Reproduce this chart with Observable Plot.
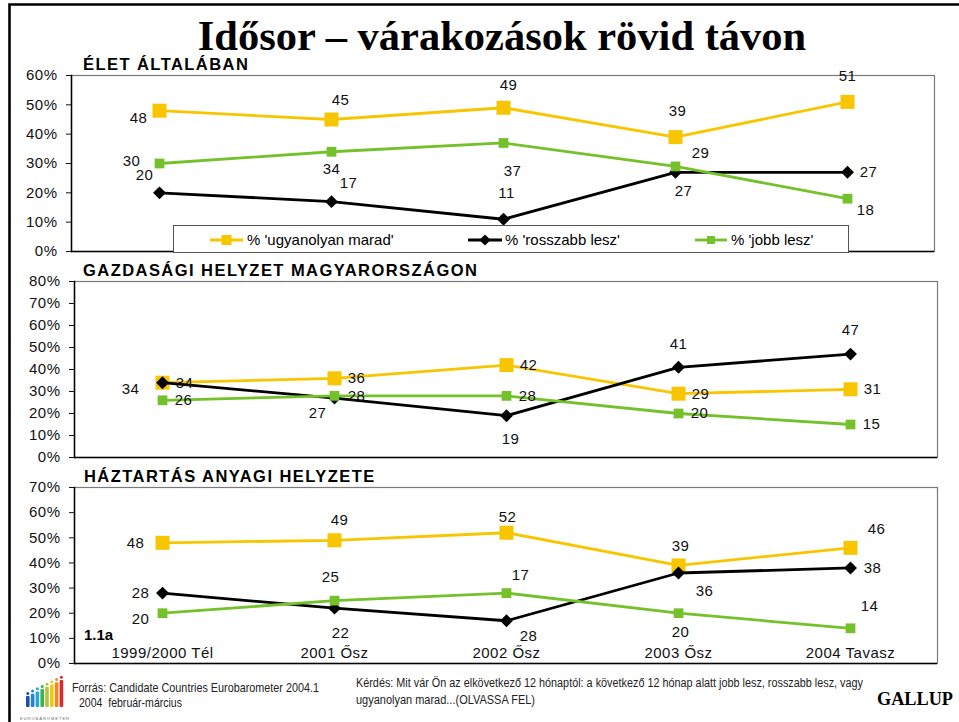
<!DOCTYPE html>
<html><head><meta charset="utf-8">
<script src="https://cdn.jsdelivr.net/npm/d3@7"></script>
<script src="https://cdn.jsdelivr.net/npm/@observablehq/plot@0.6"></script>
<style>
body{margin:0;background:#fff;}
#root{position:relative;width:959px;height:722px;overflow:hidden;background:#fff;}
.panel{position:absolute;left:0;}
#overlay{position:absolute;left:0;top:0;pointer-events:none;}
</style></head>
<body><div id="root"></div>
<script>
// ---------- data ----------
const periods = ["1999/2000 Tél", "2001 Ősz", "2002 Ősz", "2003 Ősz", "2004 Tavasz"];
const seriesNames = ["% 'ugyanolyan marad'", "% 'rosszabb lesz'", "% 'jobb lesz'"];
const panelTitles = ["ÉLET ÁLTALÁBAN", "GAZDASÁGI HELYZET MAGYARORSZÁGON", "HÁZTARTÁS ANYAGI HELYZETE"];
const yMaxes = [60, 80, 70];

// Élet általában
const eletSame   = [48, 45, 49, 39, 51];
const eletWorse  = [20, 17, 11, 27, 27];
const eletBetter = [30, 34, 37, 29, 18];
// Gazdasági helyzet Magyarországon
const gazdSame   = [34, 36, 42, 29, 31];
const gazdWorse  = [34, 27, 19, 41, 47];
const gazdBetter = [26, 28, 28, 20, 15];
// Háztartás anyagi helyzete
const haztSame   = [48, 49, 52, 39, 46];
const haztWorse  = [28, 22, 17, 36, 38];
const haztBetter = [20, 25, 28, 20, 14];
// data labels as printed on the original (2002 labels swapped there)
const haztWorseLabels  = [28, 22, 28, 36, 38];
const haztBetterLabels = [20, 25, 17, 20, 14];

const sourceLines = ["Forrás: Candidate Countries Eurobarometer 2004.1", " 2004  február-március"];
const questionLines = ["Kérdés: Mit vár Ön az elkövetkező 12 hónaptól: a következő 12 hónap alatt jobb lesz, rosszabb lesz, vagy", "ugyanolyan marad...(OLVASSA FEL)"];
const chartTitle = "Idősor – várakozások rövid távon";
const chartCode = "1.1a";
const brand = "GALLUP";

// ---------- styling / layout (not data) ----------
const colors = ["#F7C600", "#000000", "#74C12B"];
const symbols = ["square", "diamond2", "square"];
const radii = [7.9, 5.8, 5.5];
const SANS = "'Liberation Sans', Arial, sans-serif";

// label offsets [dx, dy] per panel, per series, per period
const labelOffsets = [
  [ [[-21,7],[9,-19],[5,-23],[2,-26],[0,-26]],
    [[-15,-18],[17,-18],[3,-26],[8,19],[21,0]],
    [[-28,-2],[0,17],[9,28],[25,-13],[18,11]] ],
  [ [[22,0],[22,0],[22,0],[22,0],[22,0]],
    [[-32,6],[-17,15],[4,23],[0,-23],[0,-24]],
    [[21,0],[22,0],[21,0],[21,0],[21,0]] ],
  [ [[-27,0],[5,-20],[1,-16],[2,-19],[26,-19]],
    [[-22,0],[6,25],[22,15],[26,18],[22,0]],
    [[-22,6],[-4,-23],[14,-18],[2,19],[19,-22]] ]
];
const panelLayout = [
  {top: 60,  ml: 71, mr: 25},
  {top: 266, ml: 74, mr: 22},
  {top: 472, ml: 74, mr: 22}
];

const panelsData = [
  [{values: eletSame, labels: eletSame}, {values: eletWorse, labels: eletWorse}, {values: eletBetter, labels: eletBetter}],
  [{values: gazdSame, labels: gazdSame}, {values: gazdWorse, labels: gazdWorse}, {values: gazdBetter, labels: gazdBetter}],
  [{values: haztSame, labels: haztSame}, {values: haztWorse, labels: haztWorseLabels}, {values: haztBetter, labels: haztBetterLabels}]
];

const root = document.getElementById("root");

panelsData.forEach((series, i) => {
  const yMax = yMaxes[i];
  const lay = panelLayout[i];
  const marks = [
    Plot.frame({stroke: "#7a7a7a", strokeWidth: 1.2}),
    Plot.frame({anchor: "left", stroke: "#000", strokeWidth: 1.5}),
    Plot.ruleY([0], {stroke: "#000", strokeWidth: 1.5}),
    Plot.axisY({ticks: d3.range(0, yMax + 1, 10), tickSize: 5, tickPadding: 9, tickFormat: d => d + "%", label: null, fontSize: 15})
  ];
  const labelMarks = [];
  series.forEach((s, k) => {
    const rows = periods.map((p, j) => ({period: p, value: s.values[j], label: String(s.labels[j]),
      dx: labelOffsets[i][k][j][0], dy: labelOffsets[i][k][j][1]}));
    marks.push(Plot.line(rows, {x: "period", y: "value", stroke: colors[k], strokeWidth: 2.8}));
    marks.push(Plot.dot(rows, {x: "period", y: "value", symbol: symbols[k], r: radii[k], fill: colors[k]}));
    rows.forEach(r => labelMarks.push(Plot.text([r], {x: "period", y: "value", text: "label", dx: r.dx, dy: r.dy, fontSize: 15, fill: "#111"})));
  });
  if (i === 2) {
    marks.push(Plot.text(periods, {x: d => d, frameAnchor: "bottom", lineAnchor: "middle", dy: -10, fontSize: 15, fill: "#111"}));
  }
  const svg = Plot.plot({
    width: 959, height: 196,
    marginLeft: lay.ml, marginRight: lay.mr, marginTop: 15, marginBottom: 5,
    style: `font-family:${SANS};font-size:15px;letter-spacing:0.5px;color:#111;overflow:visible;background:none;`,
    x: {type: "point", domain: periods, padding: 0.5, axis: null},
    y: {domain: [0, yMax], axis: null},
    marks: [...marks, ...labelMarks]
  });
  svg.classList.add("panel");
  svg.style.top = lay.top + "px";
  svg.style.position = "absolute";
  root.appendChild(svg);
});

// ---------- overlay: titles, legend, footer ----------
const ov = d3.select(root).append("svg").attr("id", "overlay").attr("width", 959).attr("height", 722);

// outer frame
ov.append("path").attr("d", "M9.5,722 V4.5 H959").attr("fill", "none").attr("stroke", "#000").attr("stroke-width", 2.6);

ov.append("text").attr("x", 502).attr("y", 50).attr("text-anchor", "middle")
  .attr("font-family", "'Liberation Serif','Times New Roman',serif").attr("font-weight", "bold").attr("font-size", 42.5)
  .text(chartTitle);

const titleBase = [70, 276, 482];
const titleX = [83, 83, 84];
panelTitles.forEach((t, i) => {
  ov.append("text").attr("x", titleX[i]).attr("y", titleBase[i]).attr("font-family", SANS)
    .attr("font-weight", "bold").attr("font-size", 16.5).attr("letter-spacing", "1.45px").text(t);
});

// legend
const lg = ov.append("g");
lg.append("rect").attr("x", 173.5).attr("y", 225.5).attr("width", 675).attr("height", 27)
  .attr("fill", "#fff").attr("stroke", "#555").attr("stroke-width", 1);
const legLine = [[210, 243], [468, 502], [695, 727]];
const legText = [247, 505, 731];
const legSym = [d3.symbolSquare, d3.symbolDiamond2, d3.symbolSquare];
const legSize = [100, 80, 64];
seriesNames.forEach((n, k) => {
  const cy = 240;
  lg.append("line").attr("x1", legLine[k][0]).attr("x2", legLine[k][1]).attr("y1", cy).attr("y2", cy)
    .attr("stroke", colors[k]).attr("stroke-width", 2.8);
  lg.append("path").attr("d", d3.symbol(legSym[k], legSize[k])())
    .attr("transform", `translate(${(legLine[k][0] + legLine[k][1]) / 2},${cy})`).attr("fill", colors[k]);
  lg.append("text").attr("x", legText[k]).attr("y", cy + 5.3).attr("font-family", SANS).attr("font-size", 15).text(n);
});

// code label
ov.append("text").attr("x", 84).attr("y", 640).attr("font-family", SANS).attr("font-weight", "bold")
  .attr("font-size", 15).text(chartCode);

// footer texts
const NARROW = "'Liberation Sans Narrow','Arial Narrow','Liberation Sans',Arial,sans-serif";
const srcPos = [[72, 692, 247], [76, 707, 106]];
sourceLines.forEach((t, i) => {
  ov.append("text").attr("x", srcPos[i][0]).attr("y", srcPos[i][1]).attr("font-family", NARROW)
    .attr("font-size", 13.5).attr("fill", "#222").attr("textLength", srcPos[i][2]).attr("lengthAdjust", "spacingAndGlyphs")
    .attr("xml:space", "preserve").style("white-space", "pre").text(t);
});
const qPos = [[356, 687, 507], [356, 704, 179]];
questionLines.forEach((t, i) => {
  ov.append("text").attr("x", qPos[i][0]).attr("y", qPos[i][1]).attr("font-family", NARROW)
    .attr("font-size", 12.5).attr("fill", "#222").attr("textLength", qPos[i][2]).attr("lengthAdjust", "spacingAndGlyphs")
    .text(t);
});
ov.append("text").attr("x", 877).attr("y", 705).attr("font-family", "'Liberation Serif','Times New Roman',serif")
  .attr("font-weight", "bold").attr("font-size", 18).attr("textLength", 76).attr("lengthAdjust", "spacingAndGlyphs").text(brand);

// small Eurobarometer logo
const logo = ov.append("g");
const logoCols = ["#1d4fa8", "#2a7fd0", "#25a9d9", "#3cb24a", "#a9c938", "#f2c418", "#f08a1c", "#e2262e"];
logoCols.forEach((c, j) => {
  const x = 26 + j * 4.8, top = 696 - j * 2.3;
  logo.append("rect").attr("x", x).attr("y", top).attr("width", 3.6).attr("height", 707 - top).attr("fill", c).attr("rx", 1);
  logo.append("circle").attr("cx", x + 1.8).attr("cy", top - 2.6).attr("r", 1.5).attr("fill", c);
});
logo.append("text").attr("x", 45).attr("y", 720).attr("text-anchor", "middle").attr("font-family", SANS)
  .attr("font-size", 4).attr("letter-spacing", "1px").attr("fill", "#666").text("EUROBAROMETER");
</script>
</body></html>
